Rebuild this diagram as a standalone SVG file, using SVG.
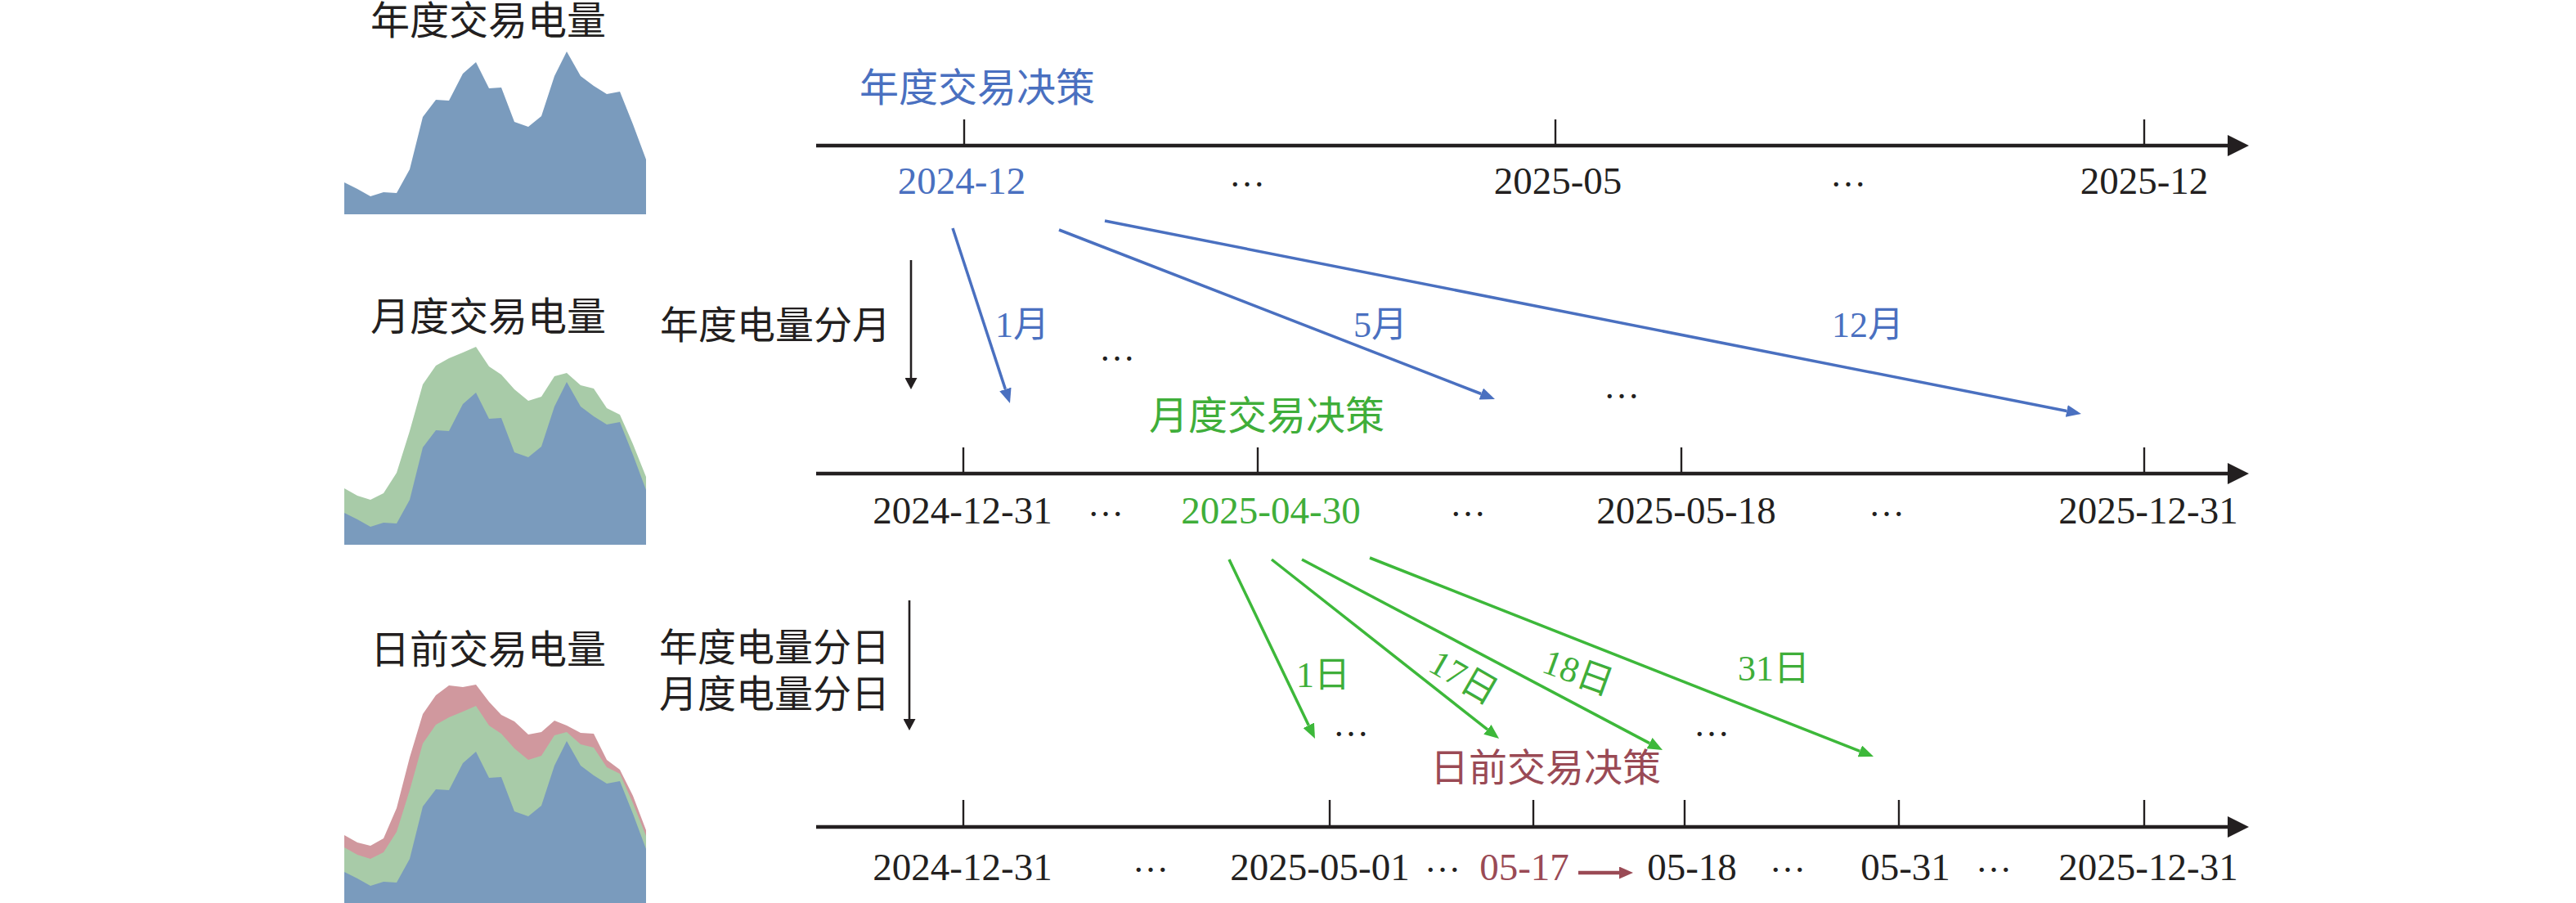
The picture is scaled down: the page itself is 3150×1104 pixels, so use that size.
<svg xmlns="http://www.w3.org/2000/svg" width="3150" height="1104" viewBox="0 0 3150 1104">
<style>
.cn{font-family:"Liberation Serif","Noto Sans CJK SC",serif;text-anchor:middle}
.d{font-family:"Liberation Serif","Noto Sans CJK SC",serif;font-size:47px;text-anchor:middle;fill:#231f20}
.el{font-family:"Liberation Serif",serif;font-size:44px;text-anchor:middle;fill:#231f20}
.k{fill:#231f20}
.b{fill:#4a70c0}
.g{fill:#3fae3a}
.r{fill:#9a4a55}
.ax{stroke:#231f20;stroke-width:4.5;fill:none;marker-end:url(#ah)}
.tk{stroke:#231f20;stroke-width:2.4}
.ba{stroke:#4a70c0;stroke-width:3.5;marker-end:url(#hb)}
.ga{stroke:#3db83a;stroke-width:3.5;marker-end:url(#hg)}
.ka{stroke:#231f20;stroke-width:2.6;marker-end:url(#hk)}
.ra{stroke:#9a4a55;stroke-width:4.5;marker-end:url(#hr)}
.cb{fill:#7a9bbd}
.cg{fill:#a8cba8}
.cr{fill:#d0989e}
</style>
<defs>
<marker id="ah" markerUnits="userSpaceOnUse" markerWidth="26" markerHeight="26" refX="0" refY="13" orient="auto"><path d="M0,0 L26,13 L0,26 z" fill="#231f20"/></marker>
<marker id="hb" markerUnits="userSpaceOnUse" markerWidth="18" markerHeight="15" refX="0" refY="7.5" orient="auto"><path d="M0,0 L18,7.5 L0,15 z" fill="#4a70c0"/></marker>
<marker id="hg" markerUnits="userSpaceOnUse" markerWidth="18" markerHeight="15" refX="0" refY="7.5" orient="auto"><path d="M0,0 L18,7.5 L0,15 z" fill="#3db83a"/></marker>
<marker id="hk" markerUnits="userSpaceOnUse" markerWidth="14" markerHeight="15" refX="0" refY="7.5" orient="auto"><path d="M0,0 L14,7.5 L0,15 z" fill="#231f20"/></marker>
<marker id="hr" markerUnits="userSpaceOnUse" markerWidth="17" markerHeight="15" refX="0" refY="7.5" orient="auto"><path d="M0,0 L17,7.5 L0,15 z" fill="#9a4a55"/></marker>
<polygon id="pg" points="421,193 437,202 453,207 469,199 485,174 501,123 517,66 533,43 549,34 566,27 582,20 598,44 613,54 629,72 646,86 662,81 678,56 693,52 710,67 726,71 742,95 758,103 774,139 790,179 790,262 421,262"/>
<polygon id="pb" points="421,223 437,231 453,240 469,235 485,236 501,207 517,143 533,122 549,123 566,90 582,76 598,108 613,107 629,149 646,155 662,142 678,93 693,63 710,93 726,105 742,115 758,112 774,152 790,195 790,262 421,262"/>
</defs>
<rect width="3150" height="1104" fill="#fff"/>

<g id="chart-annual">
<text class="cn k" x="597" y="42" font-size="48">年度交易电量</text>
<use href="#pb" class="cb"/>
</g>
<g id="chart-monthly" >
<text class="cn k" x="597" y="404" font-size="48">月度交易电量</text>
<g transform="translate(0,404)"><use href="#pg" class="cg"/><use href="#pb" class="cb"/></g>
</g>
<g id="chart-dayahead">
<text class="cn k" x="597" y="811" font-size="48">日前交易电量</text>
<g transform="translate(0,843)">
<polygon class="cr" points="421,178 437,187 453,191 469,182 485,145 501,83 517,30 533,7 549,-5 566,-3 582,-6 598,15 613,31 629,39 646,55 662,52 678,38 693,44 710,53 726,54 742,86 758,98 774,130 790,172 790,262 421,262"/>
<use href="#pg" class="cg"/><use href="#pb" class="cb"/>
</g>
</g>

<g id="step-labels">
<text class="cn k" x="948" y="414" font-size="47">年度电量分月</text>
<text class="cn k" x="947" y="808" font-size="47">年度电量分日</text>
<text class="cn k" x="947" y="865" font-size="47">月度电量分日</text>
</g>

<g id="timeline-annual">
<text class="cn b" x="1195" y="124" font-size="48">年度交易决策</text>
<line class="tk" x1="1179" y1="146" x2="1179" y2="178"/>
<line class="tk" x1="1902" y1="146" x2="1902" y2="178"/>
<line class="tk" x1="2622" y1="146" x2="2622" y2="178"/>
<text class="d b" x="1176" y="237">2024-12</text>
<text class="el" x="1525" y="228">…</text>
<text class="d" x="1905" y="237">2025-05</text>
<text class="el" x="2260" y="228">…</text>
<text class="d" x="2622" y="237">2025-12</text>
</g>

<g id="timeline-monthly">
<text class="cn g" x="1549" y="525" font-size="48">月度交易决策</text>
<line class="tk" x1="1178" y1="547" x2="1178" y2="579"/>
<line class="tk" x1="1538" y1="547" x2="1538" y2="579"/>
<line class="tk" x1="2056" y1="547" x2="2056" y2="579"/>
<line class="tk" x1="2622" y1="547" x2="2622" y2="579"/>
<text class="d" x="1177" y="640">2024-12-31</text>
<text class="el" x="1352" y="631">…</text>
<text class="d g" x="1554" y="640">2025-04-30</text>
<text class="el" x="1795" y="631">…</text>
<text class="d" x="2062" y="640">2025-05-18</text>
<text class="el" x="2307" y="631">…</text>
<text class="d" x="2627" y="640">2025-12-31</text>
<text class="el" x="1366" y="441">…</text>
<text class="el" x="1983" y="487">…</text>
</g>

<g id="timeline-dayahead">
<text class="cn r" x="1890" y="955" font-size="47">日前交易决策</text>
<line class="tk" x1="1178" y1="978" x2="1178" y2="1011"/>
<line class="tk" x1="1626" y1="978" x2="1626" y2="1011"/>
<line class="tk" x1="1875" y1="978" x2="1875" y2="1011"/>
<line class="tk" x1="2060" y1="978" x2="2060" y2="1011"/>
<line class="tk" x1="2322" y1="978" x2="2322" y2="1011"/>
<line class="tk" x1="2622" y1="978" x2="2622" y2="1011"/>
<text class="d" x="1177" y="1076">2024-12-31</text>
<text class="el" x="1407" y="1066">…</text>
<text class="d" x="1614" y="1076">2025-05-01</text>
<text class="el" x="1764" y="1066">…</text>
<text class="d r" x="1864" y="1076">05-17</text>
<text class="d" x="2069" y="1076">05-18</text>
<text class="el" x="2186" y="1066">…</text>
<text class="d" x="2330" y="1076">05-31</text>
<text class="el" x="2438" y="1066">…</text>
<text class="d" x="2627" y="1076">2025-12-31</text>
<text class="el" x="1652" y="900">…</text>
<text class="el" x="2093" y="900">…</text>
</g>

<g id="connector-labels">
<text class="cn b" x="1250" y="412" font-size="44">1月</text>
<text class="cn b" x="1688" y="412" font-size="44">5月</text>
<text class="cn b" x="2284" y="412" font-size="44">12月</text>
<text class="cn g" x="1618" y="840" font-size="44">1日</text>
<text class="cn g" font-size="44" transform="translate(1790,828) rotate(30)" y="15">17日</text>
<text class="cn g" font-size="44" transform="translate(1930,822) rotate(20)" y="15">18日</text>
<text class="cn g" x="2169" y="832" font-size="44">31日</text>
</g>

<g id="connectors">
<line class="ax" x1="998" y1="178" x2="2724" y2="178"/>
<line class="ax" x1="998" y1="579" x2="2724" y2="579"/>
<line class="ax" x1="998" y1="1011" x2="2724" y2="1011"/>
<line class="ka" x1="1114" y1="318" x2="1114" y2="462"/>
<line class="ka" x1="1112" y1="734" x2="1112" y2="879"/>
<line class="ba" x1="1165" y1="279" x2="1229.4" y2="475.9"/>
<line class="ba" x1="1295" y1="281" x2="1811.2" y2="481.5"/>
<line class="ba" x1="1351" y1="270" x2="2527.3" y2="502.5"/>
<line class="ga" x1="1503" y1="684" x2="1600.2" y2="886.8"/>
<line class="ga" x1="1555" y1="684" x2="1818.9" y2="891.9"/>
<line class="ga" x1="1592" y1="684" x2="2017.1" y2="908.6"/>
<line class="ga" x1="1675" y1="682" x2="2274.3" y2="918.4"/>
<line class="ra" x1="1930" y1="1067" x2="1980" y2="1067"/>
</g>
</svg>
